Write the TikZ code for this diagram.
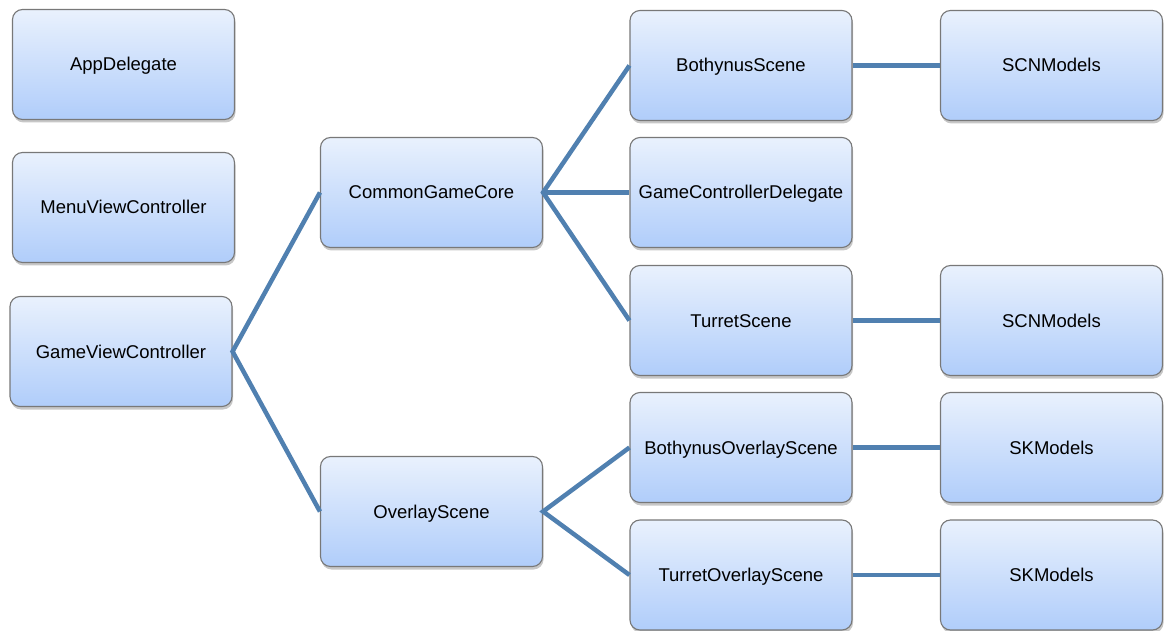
\documentclass[tikz,border=0pt]{standalone}
\usepackage{fontspec}
\setmainfont{Liberation Sans}
\usetikzlibrary{shadows}
\definecolor{boxtop}{RGB}{233,241,253}
\definecolor{boxbottom}{RGB}{176,205,250}
\definecolor{boxline}{RGB}{120,120,120}
\definecolor{linkblue}{RGB}{80,128,176}
\tikzset{
  classbox/.style={
    draw=boxline, line width=1.1pt, rounded corners=10pt,
    minimum width=222pt, minimum height=110pt, inner sep=0pt,
    text height=13.5pt, text depth=0.5pt,
    top color=boxtop, bottom color=boxbottom,
    font=\fontsize{18.5}{22}\selectfont,
    drop shadow={shadow xshift=1pt, shadow yshift=-3pt, opacity=0.22, fill=black}
  },
  link/.style={draw=linkblue, line width=4.5pt}
}
\begin{document}
\begin{tikzpicture}[x=1pt,y=1pt]
\useasboundingbox (0,0) rectangle (1171,-631);

% left column
\node[classbox] (app)  at (123.5,-64.5)  {AppDelegate};
\node[classbox] (menu) at (123.5,-207.5) {MenuViewController};
\node[classbox] (gvc)  at (121,-351.5)   {GameViewController};

% second column
\node[classbox] (cgc) at (431.5,-192.5) {CommonGameCore};
\node[classbox] (ovs) at (431.5,-511.5) {OverlayScene};

% third column
\node[classbox] (bs)   at (741,-65.5)  {BothynusScene};
\node[classbox] (gcd)  at (741,-192.5) {GameControllerDelegate};
\node[classbox] (ts)   at (741,-320.5) {TurretScene};
\node[classbox] (bos)  at (741,-447.5) {BothynusOverlayScene};
\node[classbox] (tos)  at (741,-575)   {TurretOverlayScene};

% fourth column
\node[classbox] (scn1) at (1051.5,-65.5)  {SCNModels};
\node[classbox] (scn2) at (1051.5,-320.5) {SCNModels};
\node[classbox] (sk1)  at (1051.5,-447.5) {SKModels};
\node[classbox] (sk2)  at (1051.5,-575)   {SKModels};

% tree links
\draw[link] (cgc.west) -- (gvc.east) -- (ovs.west);
\draw[link] (bs.west) -- (cgc.east) -- (ts.west);
\draw[link] (cgc.east) -- (gcd.west);
\draw[link] (bos.west) -- (ovs.east) -- (tos.west);
\draw[link] (bs.east) -- (scn1.west);
\draw[link] (ts.east) -- (scn2.west);
\draw[link] (bos.east) -- (sk1.west);
\draw[link] (tos.east) -- (sk2.west);
\end{tikzpicture}
\end{document}
